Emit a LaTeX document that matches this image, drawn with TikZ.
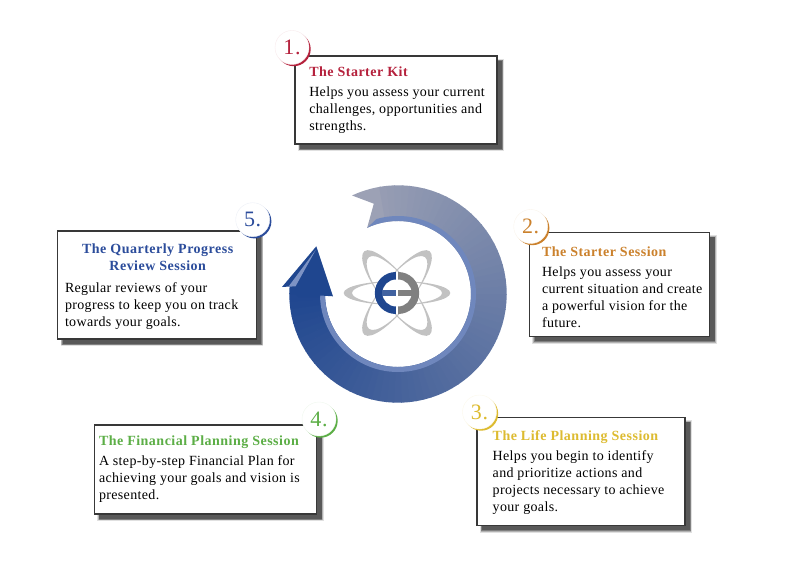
\documentclass[tikz,border=0pt]{standalone}
\usepackage{fontspec}
\usetikzlibrary{shadows}
\setmainfont[LetterSpace=2.5]{Liberation Serif}
\newfontfamily\titlefont[LetterSpace=3.5]{Liberation Serif}
\definecolor{cred}{HTML}{B5213C}
\definecolor{corange}{HTML}{CB812C}
\definecolor{cyellow}{HTML}{DDBB30}
\definecolor{cgreen}{HTML}{5CAE46}
\definecolor{cblue}{HTML}{2B4C9B}
\definecolor{arrowgray}{HTML}{9CA1B5}
\definecolor{arrowblue}{HTML}{1F468F}
\definecolor{arrowband}{HTML}{6F87BD}
\definecolor{logogray}{HTML}{808080}
\definecolor{orbit}{HTML}{C2C2C2}
\newcommand{\fl}{\rule{0pt}{10pt}}
\tikzset{
  infobox/.style={rectangle,draw=black!78,line width=1.3pt,fill=white,anchor=north west,inner sep=0pt,outer sep=0pt,
    general shadow={fill=black!12,draw=black!12,line width=4.4pt,shadow xshift=5pt,shadow yshift=-5pt},
    general shadow={fill=black!30,draw=black!30,line width=2.6pt,shadow xshift=5pt,shadow yshift=-5pt},
    general shadow={fill=black!50,draw=black!50,line width=1.2pt,shadow xshift=5pt,shadow yshift=-5pt},
    general shadow={fill=black!65,shadow xshift=5pt,shadow yshift=-5pt}},
  bodytext/.style={anchor=north west,inner sep=0pt,outer sep=0pt,align=left,font=\fontsize{14}{17}\selectfont,text=black},
  titletext/.style={anchor=base west,inner sep=0pt,outer sep=0pt,font=\titlefont\bfseries\fontsize{14}{17}\selectfont,text=#1},
  badge/.style={circle,fill=white,draw=#1!9,line width=0.4pt,minimum size=34pt,inner sep=0pt,text=#1,font=\fontsize{22}{22}\selectfont,
    general shadow={fill=#1,shadow xshift=1.7pt,shadow yshift=-1.7pt}},
}
\begin{document}
\begin{tikzpicture}[x=1pt,y=-1pt]
\useasboundingbox (0,0) rectangle (788,567);
% ---------- circular arrow
\begin{scope}[shift={(398,294)},x=1pt,y=1pt]
  \def\Ro{108.7}\def\Ri{73}\def\Rb{78}
  % tail with its notch
  \fill[arrowgray] (115:\Ro) arc[start angle=115,end angle=99,radius=\Ro] -- (99:\Ri) arc[start angle=99,end angle=115,radius=\Ri] -- (105:93.5) -- cycle;
  \foreach \a in {100,96,...,-180}{
    \pgfmathsetmacro{\p}{100-(115-\a)/2.95}
    \pgfmathsetmacro{\e}{\a-4.4}
    \fill[arrowgray!\p!arrowblue] (\a:\Ro) arc[start angle=\a,end angle=\e,radius=\Ro] -- (\e:\Ri) arc[start angle=\e,end angle=\a,radius=\Ri] -- cycle;
  }
  % lighter inner band
  \fill[arrowband] (115:\Ri) arc[start angle=115,end angle=-181,radius=\Ri] -- (-181:\Rb) arc[start angle=-181,end angle=106,radius=\Rb] -- cycle;
  % head
  \fill[arrowblue] (-81.7,47.7) -- (-116,7) -- (-108,7.5) -- (-100,-3) -- (-78,-3) -- (-77.8,-1.5) -- (-65,-2.3) -- cycle;
  \fill[arrowband!90!white] (-82.3,44) -- (-109.5,7.4) -- (-102.5,7.6) -- cycle;
  % logo
  \begin{scope}[shift={(-1,1)}]
    \fill[orbit,even odd rule] (0,0) ellipse[x radius=53.3,y radius=12] (0,0) ellipse[x radius=45,y radius=11.3];
    \foreach \r in {52,-52}{
      \fill[orbit,even odd rule,rotate=\r] (0,0) ellipse[x radius=53,y radius=15.5] (0,0) ellipse[x radius=45.5,y radius=14.8];
    }
    \fill[white] (0,0) circle[radius=20];
    \fill[arrowblue] (-1.2,21) arc[start angle=90,end angle=270,radius=21] -- (-1.2,-13.5) arc[start angle=270,end angle=90,radius=13.5] -- cycle;
    \fill[arrowblue!85] (-15,-2.7) rectangle (-1.2,2.7);
    \fill[logogray] (1.2,21) arc[start angle=90,end angle=-90,radius=21] -- (1.2,-13.5) arc[start angle=-90,end angle=90,radius=13.5] -- cycle;
    \fill[logogray] (15,-2.7) rectangle (1.2,2.7);
  \end{scope}
\end{scope}
% ---------- boxes
\node[infobox,minimum width=202pt,minimum height=88pt] (box1) at (295,56) {};
\node[infobox,minimum width=180pt,minimum height=104pt] (box2) at (529.5,232.3) {};
\node[infobox,minimum width=208pt,minimum height=108pt] (box3) at (477,417.3) {};
\node[infobox,minimum width=222.5pt,minimum height=89pt] (box4) at (94.3,425) {};
\node[infobox,minimum width=198.5pt,minimum height=108pt] (box5) at (57.7,231) {};
% ---------- titles
\node[titletext=cred] (title1) at (309.3,77) {The Starter Kit};
\node[titletext=corange] (title2) at (542,256) {The Starter Session};
\node[titletext=cyellow] (title3) at (492.7,440) {The Life Planning Session};
\node[titletext=cgreen] (title4) at (99,445) {The Financial Planning Session};
\node[titletext=cblue,align=center,anchor=north] (title5) at (157.7,243.3) {\fl The Quarterly Progress\\Review Session};
% ---------- body texts
\node[bodytext] (body1) at (309.3,87) {\fl Helps you assess your current\\challenges, opportunities and\\strengths.};
\node[bodytext] (body2) at (542,266) {\fl Helps you assess your\\current situation and create\\a powerful vision for the\\future.};
\node[bodytext] (body3) at (492.7,450.7) {\fl Helps you begin to identify\\and prioritize actions and\\projects necessary to achieve\\your goals.};
\node[bodytext] (body4) at (99,455.7) {\fl A step-by-step Financial Plan for\\achieving your goals and vision is\\presented.};
\node[bodytext] (body5) at (65,282.3) {\fl Regular reviews of your\\progress to keep you on track\\towards your goals.};
% ---------- number badges
\node[badge=cred] (badge1) at (292,47.5) {1.};
\node[badge=corange] (badge2) at (530.7,226.5) {2.};
\node[badge=cyellow] (badge3) at (479.5,412) {3.};
\node[badge=cgreen] (badge4) at (319,419) {4.};
\node[badge=cblue] (badge5) at (252.7,219.7) {5.};
\end{tikzpicture}
\end{document}
